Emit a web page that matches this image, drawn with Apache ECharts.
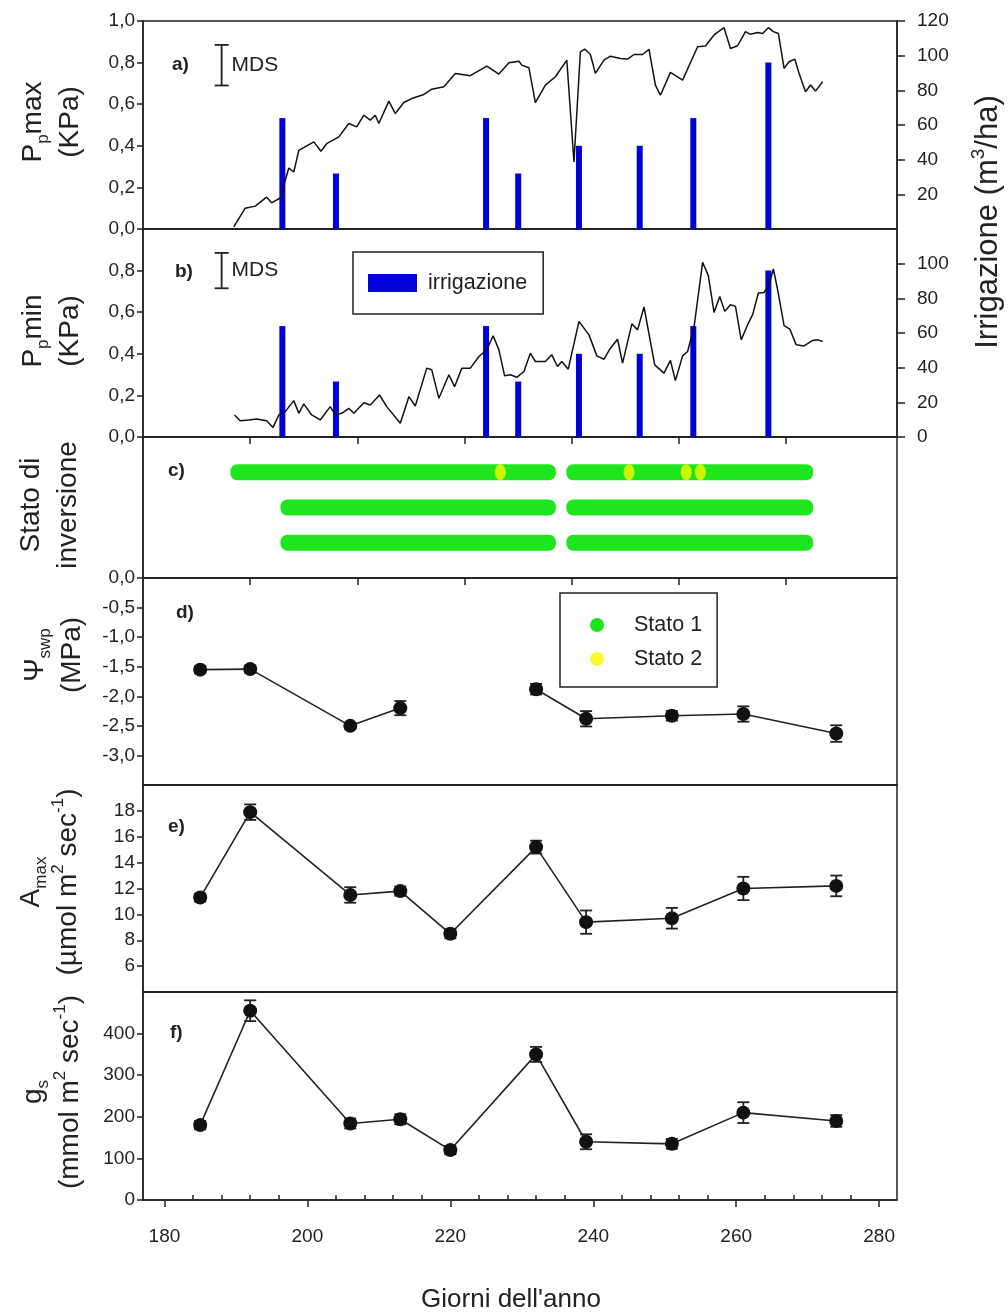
<!DOCTYPE html>
<html>
<head>
<meta charset="utf-8">
<script src="https://cdn.jsdelivr.net/npm/echarts@6/dist/echarts.min.js"></script>
<style>
  html, body { margin: 0; padding: 0; background: #fff; }
  #chart { width: 1008px; height: 1315px; }
</style>
</head>
<body>
<div id="chart"></div>
<script>
// ---------- data ----------
// Daily maximum and minimum leaf pressure (KPa), [day of year, value]
const ppMax = [
  [189.7,0.01],[191.3,0.10],[192.7,0.11],[194.3,0.153],[195.0,0.126],[196.2,0.149],[197.4,0.293],
  [198.1,0.274],[198.8,0.378],[200.9,0.419],[201.9,0.374],[202.7,0.41],[204.4,0.443],[205.8,0.507],
  [206.9,0.491],[207.9,0.547],[208.8,0.523],[209.5,0.547],[210.0,0.507],[211.4,0.615],[212.3,0.555],
  [213.5,0.608],[214.6,0.627],[216.3,0.647],[217.4,0.672],[219.1,0.684],[220.7,0.748],[222.8,0.737],
  [225.1,0.783],[226.8,0.745],[228.2,0.799],[229.6,0.807],[230.0,0.788],[231.0,0.775],[231.9,0.608],
  [233.3,0.692],[234.7,0.732],[236.3,0.812],[237.3,0.322],[238.2,0.852],[238.8,0.865],[239.6,0.839],
  [240.3,0.748],[241.5,0.812],[242.4,0.831],[243.8,0.82],[244.8,0.817],[245.7,0.839],[246.9,0.839],
  [247.8,0.864],[248.7,0.692],[249.4,0.643],[250.8,0.753],[252.5,0.716],[254.6,0.876],[255.7,0.88],
  [256.9,0.933],[258.3,0.968],[259.2,0.868],[260.2,0.881],[261.3,0.949],[262.0,0.936],[263.0,0.945],
  [263.7,0.94],[264.5,0.968],[265.2,0.949],[265.9,0.94],[266.7,0.772],[267.4,0.804],[268.2,0.817],
  [268.8,0.748],[269.7,0.66],[270.4,0.692],[271.1,0.663],[272.1,0.708]
];
const ppMin = [
  [189.8,0.106],[190.6,0.078],[191.8,0.082],[192.9,0.087],[194.3,0.078],[195.2,0.046],[196.0,0.106],
  [196.9,0.122],[198.1,0.175],[198.8,0.114],[199.5,0.159],[200.6,0.106],[201.8,0.082],[203.2,0.146],
  [203.9,0.106],[204.8,0.114],[205.8,0.138],[206.5,0.114],[207.9,0.165],[208.8,0.154],[210.1,0.202],
  [211.1,0.146],[213.0,0.066],[214.2,0.194],[215.1,0.149],[216.7,0.331],[217.4,0.323],[218.4,0.186],
  [219.8,0.299],[220.6,0.242],[221.6,0.331],[222.8,0.331],[224.0,0.387],[225.1,0.419],[226.0,0.487],
  [226.8,0.419],[227.6,0.294],[228.4,0.299],[229.3,0.287],[230.3,0.315],[231.2,0.403],[231.9,0.363],
  [233.3,0.363],[234.2,0.395],[235.0,0.339],[235.6,0.363],[236.5,0.326],[238.0,0.556],[239.4,0.491],
  [240.5,0.390],[241.5,0.374],[242.4,0.427],[243.4,0.470],[244.1,0.355],[245.4,0.544],[246.2,0.515],
  [247.1,0.625],[248.6,0.347],[249.9,0.307],[250.8,0.368],[251.5,0.271],[252.5,0.390],[253.2,0.411],
  [254.1,0.528],[255.3,0.840],[256.1,0.776],[256.9,0.599],[257.7,0.676],[258.4,0.604],[259.2,0.636],
  [259.9,0.628],[260.7,0.467],[261.6,0.540],[262.3,0.588],[263.1,0.692],[263.9,0.695],[264.6,0.732],
  [265.2,0.808],[265.8,0.708],[266.7,0.535],[267.5,0.519],[268.4,0.443],[269.5,0.438],[270.7,0.464],
  [271.4,0.467],[272.1,0.459]
];

// Irrigation events (m3/ha)
const irrigDays   = [196.5, 204, 225, 229.5, 238, 246.5, 254, 264.5];
const irrigVolume = [64, 32, 64, 32, 48, 48, 64, 96];

// Least significant difference bars: [day, low, high]
const mdsMax = [188, 0.69, 0.885];
const mdsMin = [188, 0.715, 0.885];

// Inversion state per row: state 1 runs [row, firstDay, lastDay]; state 2 days [day, row]
const state1Runs = [[3,190,234],[3,237,270],[2,197,234],[2,237,270],[1,197,234],[1,237,270]];
const state2Days = [[227,3],[245,3],[253,3],[255,3]];

// Sampling days and measurements (mean and error)
const sampleDays = [185, 192, 206, 213, 220, 232, 239, 251, 261, 274];
const psiSwp     = [-1.55, -1.54, -2.50, -2.20, null, -1.88, -2.38, -2.33, -2.30, -2.63];
const psiSwpErr  = [0.06, 0.06, 0.05, 0.12, null, 0.09, 0.13, 0.08, 0.13, 0.14];
const aMax       = [11.3, 17.9, 11.5, 11.8, 8.5, 15.2, 9.4, 9.7, 12.0, 12.2];
const aMaxErr    = [0.3, 0.6, 0.6, 0.35, 0.35, 0.5, 0.9, 0.8, 0.9, 0.8];
const gs         = [180, 455, 184, 194, 120, 350, 140, 135, 210, 190];
const gsErr      = [10, 25, 12, 12, 10, 18, 18, 12, 25, 14];

// Axis ticks
const dayTicks   = [180, 200, 220, 240, 260, 280];
const panelTicks = [192, 207, 222, 237, 252, 267];

// ---------- styling ----------
const FONT = 'Liberation Sans, Arial, Helvetica, sans-serif';
const INK = '#222';
const BLUE = '#0000d8';
const GREEN = '#1ee61e';
const YELLOW = '#f7f700';
const LEFT = 143, RIGHT = 111;
const DAY_MIN = 177, DAY_MAX = 282.5;

const minorDayTicks = [];
for (let i = 1; i < dayTicks.length; i++) {
  for (let k = 1; k < 5; k++) minorDayTicks.push(dayTicks[i - 1] + k * (dayTicks[i] - dayTicks[i - 1]) / 5);
}

const comma1 = v => v.toFixed(1).replace('.', ',');
const lineStyle = { color: INK, width: 1.5 };
const labelStyle = { color: INK, fontSize: 19, fontFamily: FONT };

const panels = [
  { top: 21,  height: 208 },
  { top: 229, height: 208 },
  { top: 437, height: 141 },
  { top: 578, height: 207 },
  { top: 785, height: 207 },
  { top: 992, height: 208 }
];
const grid = panels.map(p => ({
  left: LEFT, right: RIGHT, top: p.top, height: p.height,
  show: true, borderColor: INK, borderWidth: 1.5, backgroundColor: 'transparent'
}));

function dayAxis(gi, ticks) {
  return {
    gridIndex: gi, type: 'value', min: DAY_MIN, max: DAY_MAX,
    axisLine: { show: true, onZero: false, lineStyle },
    axisTick: ticks ? { show: true, length: 7, customValues: ticks, lineStyle } : { show: false },
    axisLabel: { show: false },
    splitLine: { show: false }
  };
}

const xAxis = [
  dayAxis(0, null),
  dayAxis(1, panelTicks),
  dayAxis(2, panelTicks),
  dayAxis(3, null),
  dayAxis(4, null),
  {
    gridIndex: 5, type: 'value', min: DAY_MIN, max: DAY_MAX,
    axisLine: { show: true, onZero: false, lineStyle },
    axisTick: { show: true, length: 7, customValues: dayTicks, lineStyle },
    axisLabel: Object.assign({ customValues: dayTicks, margin: 27 }, labelStyle),
    splitLine: { show: false }
  },
  {
    gridIndex: 5, type: 'value', min: DAY_MIN, max: DAY_MAX,
    axisLine: { show: false },
    axisTick: { show: true, length: 5, customValues: minorDayTicks, lineStyle },
    axisLabel: { show: false },
    splitLine: { show: false }
  }
];

function valAxis(gi, o) {
  return Object.assign({
    gridIndex: gi, type: 'value',
    axisLine: { show: true, onZero: false, lineStyle },
    axisTick: { show: true, length: 6, lineStyle },
    splitLine: { show: false }
  }, o);
}

const yAxis = [
  valAxis(0, { min: 0, max: 1, interval: 0.2, axisLabel: Object.assign({ formatter: comma1, margin: 8 }, labelStyle) }),
  valAxis(0, { min: 0, max: 120, interval: 20, position: 'right', axisTick: { show: true, length: 8, lineStyle },
    axisLabel: Object.assign({ showMinLabel: false, margin: 20 }, labelStyle) }),
  valAxis(1, { min: 0, max: 1, interval: 0.2, axisLabel: Object.assign({ formatter: comma1, showMaxLabel: false, margin: 8 }, labelStyle) }),
  valAxis(1, { min: 0, max: 120, interval: 20, position: 'right', axisTick: { show: true, length: 8, lineStyle },
    axisLabel: Object.assign({ showMaxLabel: false, margin: 20 }, labelStyle) }),
  valAxis(2, { min: 0, max: 4, interval: 4, axisTick: { show: true, length: 6, lineStyle, customValues: [0] },
    axisLabel: Object.assign({ formatter: comma1, showMaxLabel: false, margin: 8 }, labelStyle) }),
  valAxis(3, { min: -3.5, max: 0, interval: 0.5,
    axisLabel: Object.assign({ formatter: comma1, showMinLabel: false, showMaxLabel: false, margin: 8 }, labelStyle) }),
  valAxis(4, { min: 4, max: 20, interval: 2,
    axisLabel: Object.assign({ showMinLabel: false, showMaxLabel: false, margin: 8 }, labelStyle) }),
  valAxis(5, { min: 0, max: 500, interval: 100,
    axisLabel: Object.assign({ showMaxLabel: false, margin: 8 }, labelStyle) })
];

// ---------- render helpers ----------
function mdsRender(params, api) {
  const x = api.value(0);
  const lo = api.coord([x, api.value(1)]);
  const hi = api.coord([x, api.value(2)]);
  const st = { stroke: INK, lineWidth: 1.8 };
  const hw = 7;
  return {
    type: 'group',
    children: [
      { type: 'line', shape: { x1: lo[0], y1: lo[1], x2: hi[0], y2: hi[1] }, style: st },
      { type: 'line', shape: { x1: hi[0] - hw, y1: hi[1], x2: hi[0] + hw, y2: hi[1] }, style: st },
      { type: 'line', shape: { x1: lo[0] - hw, y1: lo[1], x2: lo[0] + hw, y2: lo[1] }, style: st },
      { type: 'text', style: { text: 'MDS', x: hi[0] + 10, y: (lo[1] + hi[1]) / 2,
        fill: INK, fontSize: 21, fontFamily: FONT, verticalAlign: 'middle', align: 'left' } }
    ]
  };
}

function errRender(params, api) {
  const x = api.value(0), y = api.value(1), e = api.value(2);
  const top = api.coord([x, y + e]);
  const bot = api.coord([x, y - e]);
  const st = { stroke: INK, lineWidth: 1.8 };
  const hw = 6;
  return {
    type: 'group',
    children: [
      { type: 'line', shape: { x1: top[0], y1: top[1], x2: bot[0], y2: bot[1] }, style: st },
      { type: 'line', shape: { x1: top[0] - hw, y1: top[1], x2: top[0] + hw, y2: top[1] }, style: st },
      { type: 'line', shape: { x1: bot[0] - hw, y1: bot[1], x2: bot[0] + hw, y2: bot[1] }, style: st }
    ]
  };
}

function runRender(params, api) {
  const row = api.value(0);
  const a = api.coord([api.value(1), row]);
  const b = api.coord([api.value(2), row]);
  const rx = 5.5, h = 16;
  return {
    type: 'rect',
    shape: { x: a[0] - rx, y: a[1] - h / 2, width: b[0] - a[0] + 2 * rx, height: h, r: 7 },
    style: { fill: GREEN }
  };
}

const pairs = (vals) => sampleDays.map((d, i) => [d, vals[i] == null ? '-' : vals[i]]);
const errData = (vals, errs) => sampleDays
  .map((d, i) => vals[i] == null ? null : [d, vals[i], errs[i]])
  .filter(Boolean);
const irrig = irrigDays.map((d, i) => [d, irrigVolume[i]]);

function measureSeries(xi, yi, vals, errs) {
  return [
    { type: 'custom', xAxisIndex: xi, yAxisIndex: yi, renderItem: errRender,
      encode: { x: 0, y: 1 }, data: errData(vals, errs), z: 3, silent: true },
    { type: 'line', xAxisIndex: xi, yAxisIndex: yi, data: pairs(vals),
      symbol: 'circle', symbolSize: 14, showSymbol: true, connectNulls: false,
      lineStyle: { color: INK, width: 1.6 }, itemStyle: { color: '#111' }, z: 4, silent: true }
  ];
}

const series = [
  // a) maximum pressure with irrigation
  { type: 'bar', name: 'irrigazione', xAxisIndex: 0, yAxisIndex: 1, data: irrig,
    barWidth: 6, itemStyle: { color: BLUE }, z: 2, silent: true },
  { type: 'line', xAxisIndex: 0, yAxisIndex: 0, data: ppMax, symbol: 'none',
    lineStyle: { color: '#111', width: 1.5 }, z: 3, silent: true },
  { type: 'custom', xAxisIndex: 0, yAxisIndex: 0, renderItem: mdsRender,
    encode: { x: 0, y: [1, 2] }, data: [mdsMax], silent: true },
  // b) minimum pressure with irrigation
  { type: 'bar', name: 'irrigazione', xAxisIndex: 1, yAxisIndex: 3, data: irrig,
    barWidth: 6, itemStyle: { color: BLUE }, z: 2, silent: true },
  { type: 'line', xAxisIndex: 1, yAxisIndex: 2, data: ppMin, symbol: 'none',
    lineStyle: { color: '#111', width: 1.5 }, z: 3, silent: true },
  { type: 'custom', xAxisIndex: 1, yAxisIndex: 2, renderItem: mdsRender,
    encode: { x: 0, y: [1, 2] }, data: [mdsMin], silent: true },
  // c) inversion state
  { type: 'custom', name: 'Stato 1', xAxisIndex: 2, yAxisIndex: 4, renderItem: runRender,
    encode: { x: [1, 2], y: 0 }, data: state1Runs, itemStyle: { color: GREEN }, z: 2, silent: true },
  { type: 'scatter', name: 'Stato 2', xAxisIndex: 2, yAxisIndex: 4, data: state2Days,
    symbol: 'circle', symbolSize: [11, 16], itemStyle: { color: YELLOW }, z: 3, silent: true },
  // d) e) f) measurements
  ...measureSeries(3, 5, psiSwp, psiSwpErr),
  ...measureSeries(4, 6, aMax, aMaxErr),
  ...measureSeries(5, 7, gs, gsErr)
];

const legend = [
  {
    data: ['irrigazione'], left: 353, top: 252, orient: 'horizontal',
    icon: 'rect', itemWidth: 49, itemHeight: 18,
    borderColor: INK, borderWidth: 1.5, padding: [20, 16, 20, 15],
    textStyle: { color: INK, fontSize: 21.5, fontFamily: FONT, padding: [0, 0, 0, 6] },
    selectedMode: false
  },
  {
    data: [{ name: 'Stato 1', icon: 'circle' }, { name: 'Stato 2', icon: 'circle' }],
    left: 560, top: 593, orient: 'vertical',
    itemWidth: 14, itemHeight: 14, itemGap: 12,
    borderColor: INK, borderWidth: 1.5, padding: [21, 15, 17, 30],
    textStyle: { color: INK, fontSize: 21.5, fontFamily: FONT, padding: [0, 0, 0, 25] },
    selectedMode: false
  }
];

// ---------- titles and panel letters ----------
const rich = {
  t:  { fontSize: 28, fontFamily: FONT, fill: INK, lineHeight: 37, align: 'center' },
  sb: { fontSize: 17, fontFamily: FONT, fill: INK, lineHeight: 18, verticalAlign: 'bottom', align: 'center' },
  sp: { fontSize: 17, fontFamily: FONT, fill: INK, lineHeight: 18, verticalAlign: 'top', align: 'center' },
  T:  { fontSize: 31, fontFamily: FONT, fill: INK, lineHeight: 38, align: 'center' },
  SP: { fontSize: 19, fontFamily: FONT, fill: INK, lineHeight: 20, verticalAlign: 'top', align: 'center' }
};
function vTitle(text, x, y) {
  return {
    type: 'text', x, y, rotation: Math.PI / 2, silent: true,
    style: { text, rich, align: 'center', verticalAlign: 'middle', fill: INK }
  };
}
function letter(text, x, y) {
  return {
    type: 'text', x, y, silent: true,
    style: { text, fill: INK, font: 'bold 19px ' + FONT, align: 'left', verticalAlign: 'middle' }
  };
}

const graphic = [
  vTitle('{t|P}{sb|p}{t|max}\n{t|(KPa)}', 52, 122),
  vTitle('{t|P}{sb|p}{t|min}\n{t|(KPa)}', 52, 331),
  vTitle('{t|Stato di}\n{t|inversione}', 50, 505),
  vTitle('{t|Ψ}{sb|swp}\n{t|(MPa)}', 54, 655),
  vTitle('{t|A}{sb|max}\n{t|(µmol m}{sp|2}{t| sec}{sp|-1}{t|)}', 50, 882),
  vTitle('{t|g}{sb|s}\n{t|(mmol m}{sp|2}{t| sec}{sp|-1}{t|)}', 52, 1092),
  vTitle('{T|Irrigazione (m}{SP|3}{T|/ha)}', 988, 222),
  {
    type: 'text', x: 511, y: 1300, silent: true,
    style: { text: "Giorni dell'anno", fill: INK, fontSize: 26, fontFamily: FONT,
      align: 'center', verticalAlign: 'middle' }
  },
  letter('a)', 172, 65),
  letter('b)', 175, 272),
  letter('c)', 168, 471),
  letter('d)', 176, 613),
  letter('e)', 168, 827),
  letter('f)', 170, 1033)
];

const chart = echarts.init(document.getElementById('chart'), null, { renderer: 'canvas' });
chart.setOption({
  animation: false,
  backgroundColor: '#fff',
  textStyle: { fontFamily: FONT },
  grid, xAxis, yAxis, series, legend, graphic
});
</script>
</body>
</html>
